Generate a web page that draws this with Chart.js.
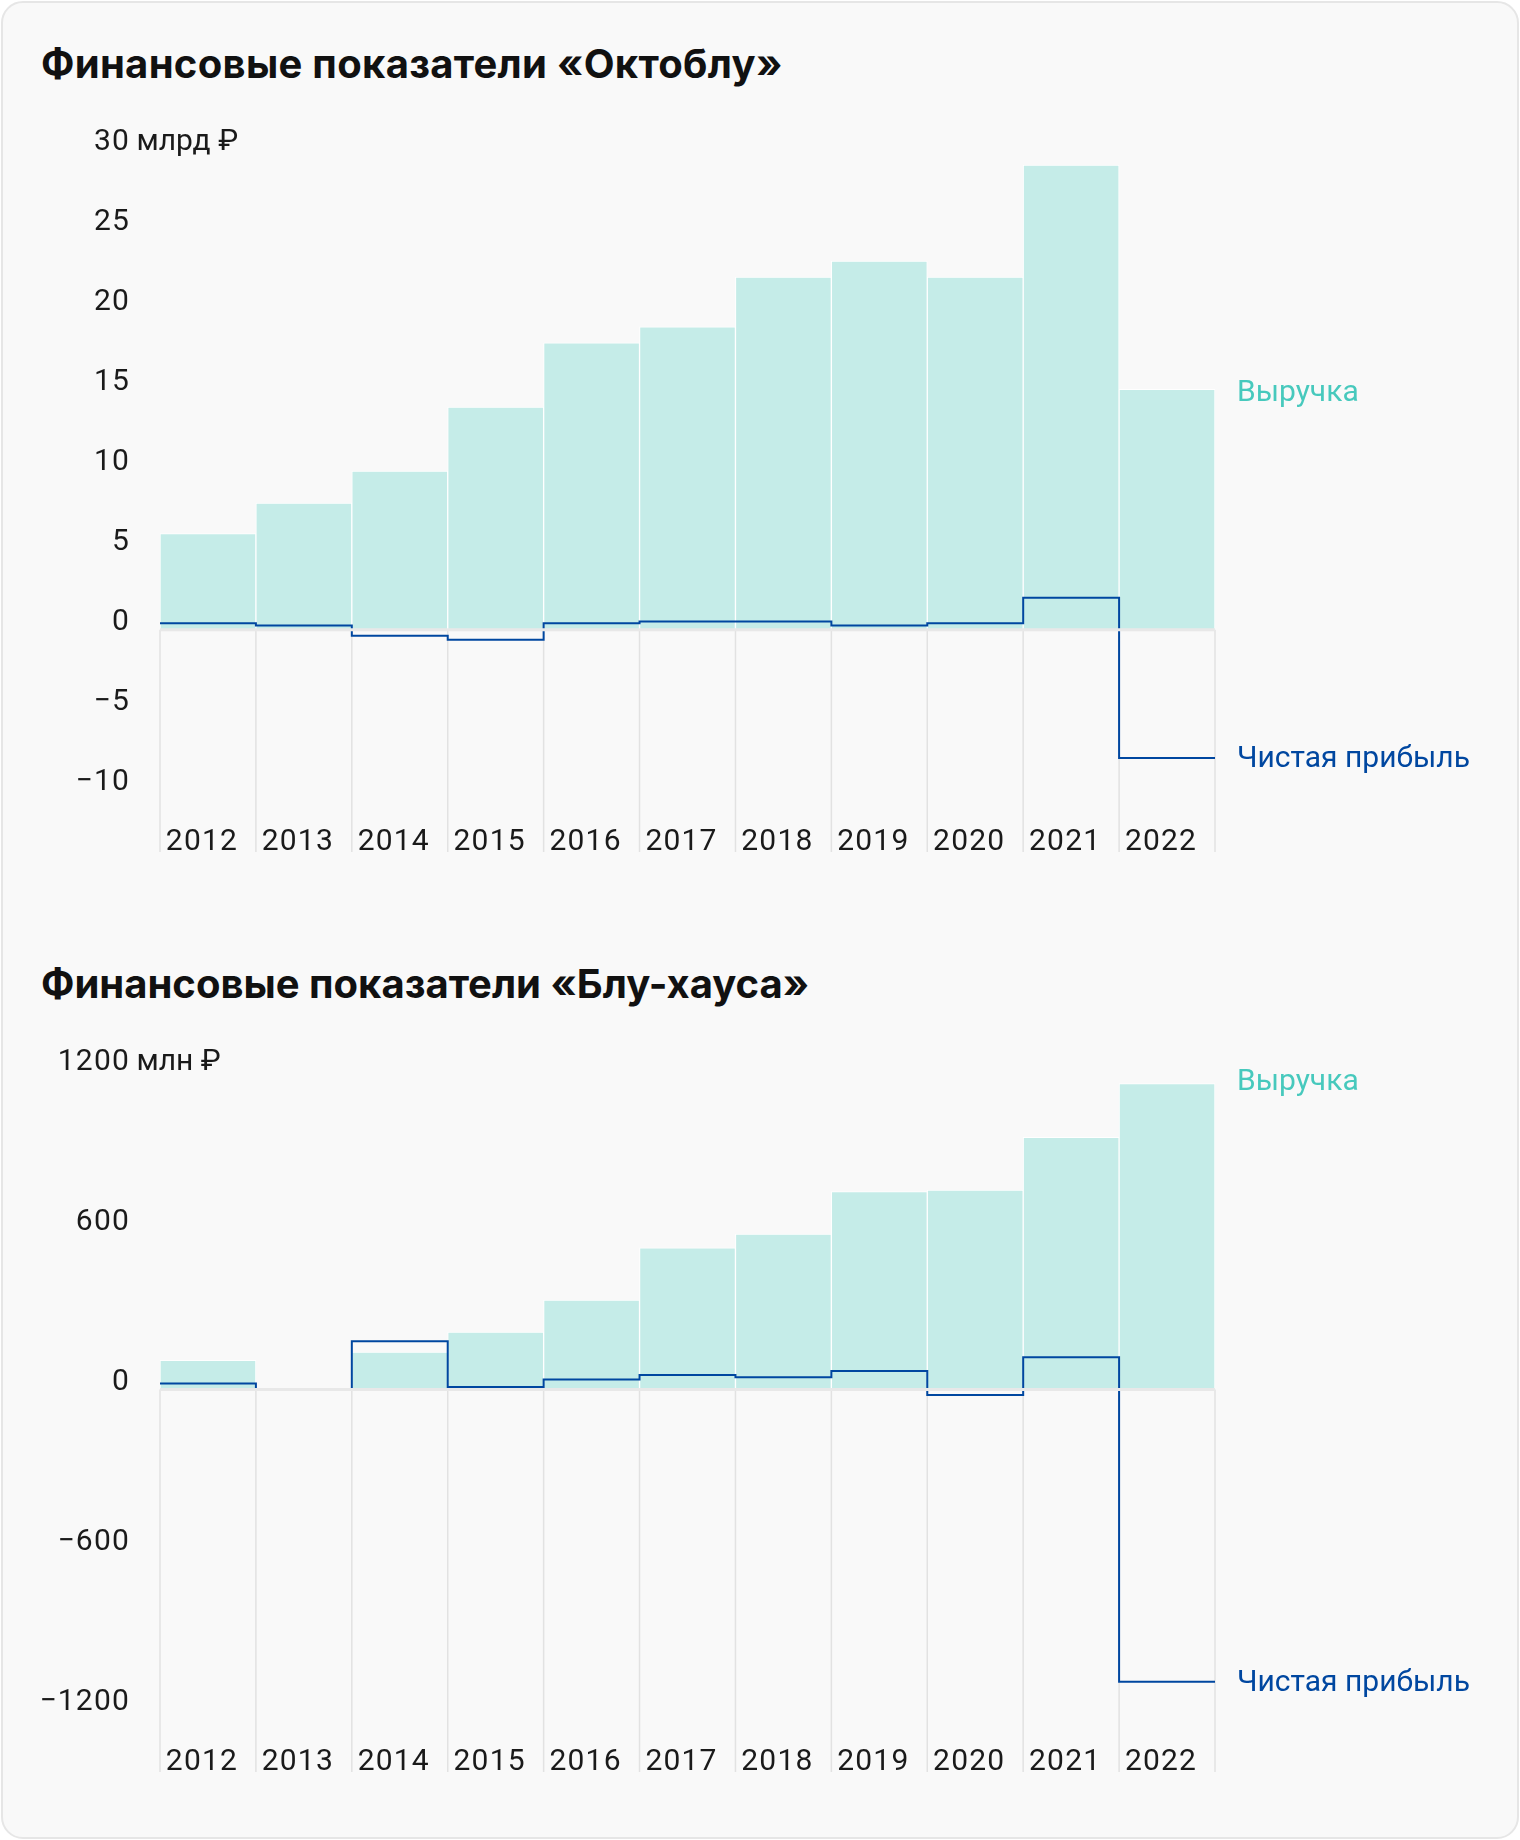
<!DOCTYPE html>
<html lang="ru">
<head>
<meta charset="utf-8">
<script src="https://cdn.jsdelivr.net/npm/chart.js@4.4.1/dist/chart.umd.min.js"></script>
<style>
  html, body { margin: 0; padding: 0; background: #fff; }
  body { width: 1520px; height: 1840px; position: relative; font-family: Roboto, sans-serif; }
  .card { position: absolute; left: 1px; top: 1px; width: 1514px; height: 1834px; border: 2px solid #e6e6e6; border-radius: 22px; background: #f9f9f9; }
  h2 { position: absolute; left: 41px; margin: 0; font: 700 40px Inter, Roboto, sans-serif; letter-spacing: 0.3px; line-height: 1; color: #111; white-space: nowrap; }
  .box { position: absolute; left: 0; width: 1520px; height: 769px; }
</style>
</head>
<body>
<div class="card"></div>
<h2 style="top:44px">Финансовые показатели «Октоблу»</h2>
<div class="box" style="top:101px"><canvas id="octChart"></canvas></div>
<h2 style="top:964px; letter-spacing:0">Финансовые показатели «Блу-хауса»</h2>
<div class="box" style="top:1021px"><canvas id="bluChart"></canvas></div>
<script>
const years = ['2012', '2013', '2014', '2015', '2016', '2017', '2018', '2019', '2020', '2021', '2022'];

// «Октоблу», млрд ₽
const octRevenue = [6.0, 7.9, 9.9, 13.9, 17.9, 18.9, 22.0, 23.0, 22.0, 29.0, 15.0];
const octProfit = [0.4, 0.27, -0.37, -0.63, 0.4, 0.52, 0.52, 0.27, 0.4, 2.0, -8.0];
const octTicks = [-10, -5, 0, 5, 10, 15, 20, 25, 30];

// «Блу-хаус», млн ₽
const bluRevenue = [109, null, 140, 215, 335, 530, 582, 741, 747, 944, 1145];
const bluProfit = [22, 0, 181, 9, 37, 54, 46, 69, -21, 121, -1094];
const bluTicks = [-1200, -600, 0, 600, 1200];

const TEAL = '#c5ece8';
const TEAL_TEXT = '#47c9bd';
const BLUE = '#0047a0';
const FONT = 'Roboto';
const LABEL_LIFT = -7;

Chart.defaults.font.family = FONT;

function fmt(v) {
    return v < 0 ? '\u2212' + Math.abs(v) : String(v);
}

// step line: each year holds its value across the whole bar width
function steps(values) {
    const pts = values.map((v, i) => ({ x: i - 0.5, y: v }));
    pts.push({ x: values.length - 0.5, y: values[values.length - 1] });
    return pts;
}

const sidePlugin = {
    id: 'side',
    beforeDraw(chart) {
        // digits in the original are set a bit looser
        chart.ctx.letterSpacing = '1.2px';
    },
    beforeDatasetsDraw(chart) {
        const ctx = chart.ctx;
        const x2 = chart.scales.x2, y = chart.scales.y;
        const y0 = y.getPixelForValue(0);
        ctx.save();
        ctx.strokeStyle = '#e2e2e2';
        ctx.lineWidth = 1.5;
        for (let i = 0; i <= chart.data.labels.length; i++) {
            const px = x2.getPixelForValue(i - 0.5);
            ctx.beginPath();
            ctx.moveTo(px, y0);
            ctx.lineTo(px, chart.chartArea.bottom + 42);
            ctx.stroke();
        }
        ctx.restore();
    },
    afterDatasetsDraw(chart, args, opts) {
        const ctx = chart.ctx;
        const area = chart.chartArea;
        const y = chart.scales.y;
        const y0 = y.getPixelForValue(0);
        ctx.save();
        ctx.letterSpacing = '0px';
        // zero line
        ctx.strokeStyle = '#e8e8e8';
        ctx.lineWidth = 3;
        ctx.beginPath();
        ctx.moveTo(area.left, y0);
        ctx.lineTo(area.right, y0);
        ctx.stroke();

        // series labels at the end of each series
        ctx.font = '30px ' + FONT;
        ctx.textAlign = 'left';
        ctx.textBaseline = 'middle';
        const rev = chart.data.datasets[0].data;
        const prof = opts.profit;
        ctx.fillStyle = TEAL_TEXT;
        ctx.fillText('Выручка', area.right + 22, y.getPixelForValue(rev[rev.length - 1]) + opts.revShift);
        ctx.fillStyle = BLUE;
        ctx.fillText('Чистая прибыль', area.right + 22, y.getPixelForValue(prof[prof.length - 1]) + 2);

        // unit after the top tick
        const top = opts.ticks[opts.ticks.length - 1];
        ctx.fillStyle = '#1a1a1a';
        ctx.fillText(' ' + opts.unit, area.left - 31, y.getPixelForValue(top) + LABEL_LIFT);
        ctx.restore();
    }
};

function makeChart(id, revenue, profit, ticks, min, max, unit, revShift) {
    return new Chart(document.getElementById(id), {
        data: {
            labels: years,
            datasets: [{
                type: 'bar',
                data: revenue,
                backgroundColor: TEAL,
                borderColor: '#ffffff',
                borderWidth: 1,
                barPercentage: 1,
                categoryPercentage: 1,
                grouped: false,
                xAxisID: 'x',
                order: 2
            }, {
                type: 'line',
                data: steps(profit),
                xAxisID: 'x2',
                borderColor: BLUE,
                borderWidth: 2,
                stepped: true,
                pointRadius: 0,
                fill: false,
                order: 1
            }]
        },
        options: {
            responsive: true,
            maintainAspectRatio: false,
            animation: false,
            layout: { padding: { left: 0, right: 305, top: 0, bottom: 0 } },
            plugins: {
                legend: { display: false },
                tooltip: { enabled: false },
                side: { profit: profit, ticks: ticks, unit: unit, revShift: revShift }
            },
            scales: {
                x: {
                    type: 'category',
                    offset: true,
                    grid: { display: false, drawTicks: false },
                    border: { display: false },
                    ticks: { font: { size: 30 }, color: '#1a1a1a', padding: 14, labelOffset: -6, maxRotation: 0, autoSkip: false },
                    afterFit(s) { s.height = 60; }
                },
                x2: { type: 'linear', min: -0.5, max: years.length - 0.5, display: false },
                y: {
                    type: 'linear',
                    min: min,
                    max: max,
                    grid: { display: false, drawTicks: false },
                    border: { display: false },
                    afterBuildTicks(s) { s.ticks = ticks.map(v => ({ value: v })); },
                    ticks: { font: { size: 30 }, color: '#1a1a1a', padding: 30, labelOffset: LABEL_LIFT, callback: v => fmt(v) },
                    afterFit(s) { s.width = 160; }
                }
            }
        },
        plugins: [sidePlugin]
    });
}

makeChart('octChart', octRevenue, octProfit, octTicks, -11.25, 30, 'млрд ₽', 4);
makeChart('bluChart', bluRevenue, bluProfit, bluTicks, -1275, 1200, 'млн ₽', -1);
</script>
</body>
</html>
